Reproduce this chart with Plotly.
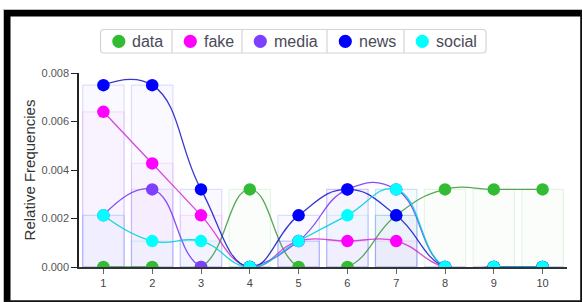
import plotly.graph_objects as go

# ---- data ----
categories = [1, 2, 3, 4, 5, 6, 7, 8, 9, 10]
series_names = ["data", "fake", "media", "news", "social"]
data_vals = [0.0, 0.0, 0.0, 0.0032, 0.0, 0.0, 0.00213, 0.0032, 0.0032, 0.0032]
fake_vals = [0.0064, 0.00427, 0.00213, 0.0, 0.00107, 0.00107, 0.00107, 0.0, 0.0, 0.0]
media_vals = [0.00213, 0.0032, 0.0, 0.0, 0.00107, 0.0032, 0.0032, 0.0, 0.0, 0.0]
news_vals = [0.0075, 0.0075, 0.0032, 0.0, 0.00213, 0.0032, 0.00213, 0.0, 0.0, 0.0]
social_vals = [0.00213, 0.00107, 0.00107, 0.0, 0.00107, 0.00213, 0.0032, 0.0, 0.0, 0.0]
y_ticks = [0.0, 0.002, 0.004, 0.006, 0.008]

series_vals = [data_vals, fake_vals, media_vals, news_vals, social_vals]
colors = ["#33bb33", "#ff00ff", "#7f3fff", "#0000ff", "#00ffff"]
line_colors = ["rgba(60,150,60,0.85)", "rgba(210,40,210,0.85)", "rgba(120,60,240,0.9)",
               "rgba(20,20,200,0.85)", "rgba(0,210,220,0.9)"]
bar_fill = ["rgba(51,187,51,0.025)", "rgba(255,0,255,0.025)", "rgba(127,63,255,0.025)",
            "rgba(0,0,255,0.025)", "rgba(0,255,255,0.025)"]
bar_line = ["rgba(51,187,51,0.12)", "rgba(255,0,255,0.10)", "rgba(127,63,255,0.12)",
            "rgba(0,0,255,0.12)", "rgba(0,200,255,0.15)"]

W, H = 583, 302
ML, MR, MT, MB = 79, 16, 73, 35
PW, PH = W - ML - MR, H - MT - MB

fig = go.Figure()

for name, vals, fc, lc in zip(series_names, series_vals, bar_fill, bar_line):
    fig.add_trace(go.Bar(x=categories, y=vals, width=0.85, showlegend=False,
                         marker=dict(color=fc, line=dict(color=lc, width=1.2)),
                         hoverinfo="skip"))

for name, vals, lc in zip(series_names, series_vals, line_colors):
    fig.add_trace(go.Scatter(x=categories, y=vals, mode="lines", showlegend=False,
                             line=dict(color=lc, width=1.3, shape="spline", smoothing=1.3),
                             legendgroup=name, hoverinfo="skip"))

for name, vals, c in zip(series_names, series_vals, colors):
    fig.add_trace(go.Scatter(x=categories, y=vals, mode="markers", name=name,
                             legendgroup=name, showlegend=False,
                             marker=dict(color=c, size=12.5, line=dict(width=0))))


def px_x(p):
    return (p - ML) / PW


def px_y(p):
    return 1 - (p - MT) / PH


# page frame
frame = [
    (3, 9, 582, 10, "#bbbbbb"),
    (3, 9, 4, 302, "#bbbbbb"),
    (4, 10, 582, 16.5, "#000000"),
    (4, 10, 10.5, 302, "#000000"),
    (580.2, 10, 582, 302, "#111111"),
    (4, 300.2, 582, 302, "#111111"),
]
shapes = []
for x0, y0, x1, y1, c in frame:
    shapes.append(dict(type="rect", xref="paper", yref="paper",
                       x0=px_x(x0), x1=px_x(x1), y0=px_y(y1), y1=px_y(y0),
                       fillcolor=c, line=dict(width=0), layer="above"))

# legend box with separators (drawn), entries from series names/colors
LEG_L, LEG_R, LEG_T, LEG_B = 100.5, 486, 29.5, 53
seps = [100.5, 172, 242, 327, 404, 486]
r = 3.5
x0p, x1p = px_x(LEG_L), px_x(LEG_R)
y0p, y1p = px_y(LEG_B), px_y(LEG_T)
rx, ry = r / PW, r / PH
path = (f"M {x0p+rx},{y1p} L {x1p-rx},{y1p} Q {x1p},{y1p} {x1p},{y1p-ry} "
        f"L {x1p},{y0p+ry} Q {x1p},{y0p} {x1p-rx},{y0p} L {x0p+rx},{y0p} "
        f"Q {x0p},{y0p} {x0p},{y0p+ry} L {x0p},{y1p-ry} Q {x0p},{y1p} {x0p+rx},{y1p} Z")
shapes.append(dict(type="path", xref="paper", yref="paper", path=path,
                   fillcolor="white", line=dict(color="#d4d4d4", width=1.2), layer="above"))
for s in seps[1:-1]:
    shapes.append(dict(type="line", xref="paper", yref="paper",
                       x0=px_x(s), x1=px_x(s), y0=px_y(LEG_B), y1=px_y(LEG_T),
                       line=dict(color="#d4d4d4", width=1.2), layer="above"))

annotations = []
cy = 41.3
for i, (name, c) in enumerate(zip(series_names, colors)):
    left = seps[i]
    mx = left + 18.3
    rad = 6.6
    shapes.append(dict(type="circle", xref="paper", yref="paper",
                       x0=px_x(mx - rad), x1=px_x(mx + rad),
                       y0=px_y(cy + rad), y1=px_y(cy - rad),
                       fillcolor=c, line=dict(width=0), layer="above"))
    annotations.append(dict(xref="paper", yref="paper", x=px_x(left + 29.5), y=px_y(cy + 0.5),
                            xanchor="left", yanchor="middle", showarrow=False, text=name,
                            font=dict(size=16, color="#4a4a58",
                                      family="Liberation Sans, Arial, sans-serif")))

fig.update_layout(
    width=W, height=H,
    margin=dict(l=ML, r=MR, t=MT, b=MB),
    paper_bgcolor="white", plot_bgcolor="white",
    barmode="overlay",
    font=dict(family="Liberation Sans, Arial, sans-serif", color="#444"),
    showlegend=False,
    shapes=shapes,
    annotations=annotations,
    xaxis=dict(range=[0.5, 10.5], tickmode="array", tickvals=categories,
               ticktext=[str(c) for c in categories],
               showgrid=False, zeroline=False, showline=True, linecolor="#333",
               linewidth=1.5, ticks="outside", ticklen=5, tickcolor="#666",
               tickfont=dict(size=11, color="#444")),
    yaxis=dict(range=[0, 0.008], tickmode="array", tickvals=y_ticks,
               ticktext=[f"{v:.3f}" for v in y_ticks],
               showgrid=False, zeroline=False, showline=True, linecolor="#222",
               linewidth=1.5, ticks="outside", ticklen=6, tickcolor="#222",
               tickfont=dict(size=11, color="#555"),
               title=dict(text="Relative Frequencies", font=dict(size=15, color="#333"),
                          standoff=2)),
)

fig.write_html("out.html", config={"displayModeBar": False},
               post_script="document.body.style.margin='0';")
